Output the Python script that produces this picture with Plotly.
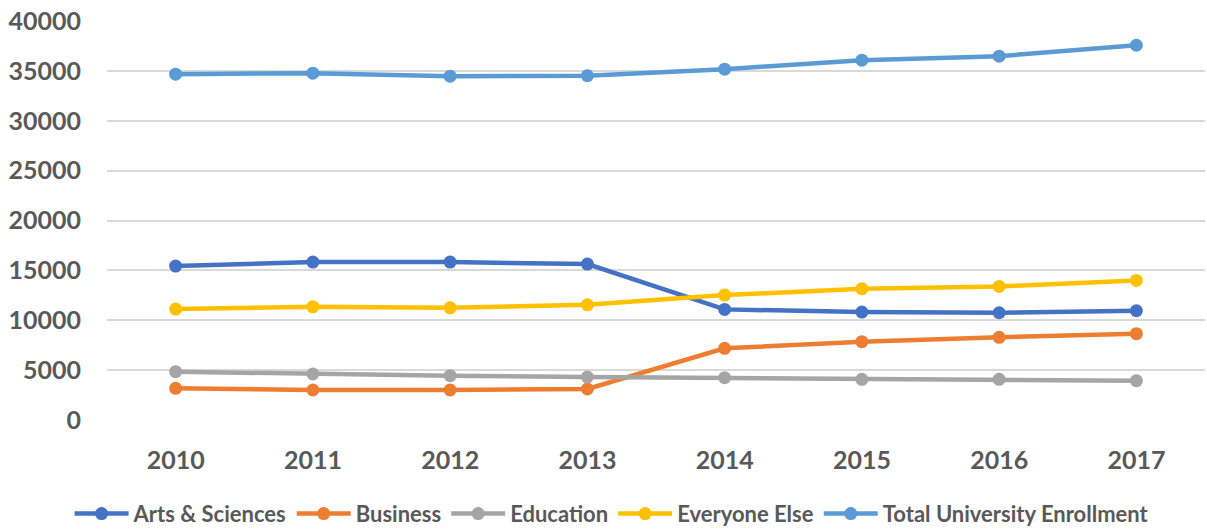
import plotly.graph_objects as go

years = ["2010", "2011", "2012", "2013", "2014", "2015", "2016", "2017"]
arts_sciences = [15430, 15830, 15830, 15630, 11090, 10820, 10750, 10950]
business = [3180, 3010, 3010, 3110, 7190, 7850, 8290, 8650]
education = [4840, 4610, 4440, 4310, 4240, 4080, 4080, 3940]
everyone_else = [11120, 11350, 11250, 11550, 12520, 13150, 13390, 13990]
total_enrollment = [34670, 34770, 34470, 34520, 35170, 36070, 36470, 37570]

series = [
    ("Arts & Sciences", arts_sciences, "#4472C4"),
    ("Business", business, "#ED7D31"),
    ("Education", education, "#A5A5A5"),
    ("Everyone Else", everyone_else, "#FFC000"),
    ("Total University Enrollment", total_enrollment, "#5B9BD5"),
]

fig = go.Figure()
for name, vals, color in series:
    fig.add_trace(go.Scatter(
        x=years, y=vals, name=name, mode="lines+markers",
        line=dict(color=color, width=4.5),
        marker=dict(color=color, size=13),
    ))

font_family = "Lato"
fig.update_layout(
    width=1207, height=529,
    margin=dict(l=107, r=2, t=21, b=109, autoexpand=False),
    paper_bgcolor="white", plot_bgcolor="white",
    font=dict(family=font_family, color="#595959"),
    showlegend=True,
    legend=dict(
        orientation="h", x=0.46, xanchor="center", y=-0.235, yanchor="middle",
        font=dict(size=22, family=font_family, color="#595959", weight="bold"),
        itemwidth=54, traceorder="normal",
    ),
    xaxis=dict(
        type="category", range=[-0.5, 7.5], showgrid=False, showline=False,
        ticks="", tickfont=dict(size=25, weight="bold", color="#595959"),
        ticklabelstandoff=23, zeroline=False, automargin=False,
        ticklabeloverflow="allow",
    ),
    yaxis=dict(
        range=[0, 40000], tickvals=[0, 5000, 10000, 15000, 20000, 25000, 30000, 35000, 40000],
        tickformat="d", showgrid=True, gridcolor="#D9D9D9", gridwidth=1.5,
        zeroline=False, showline=False, ticks="",
        tickfont=dict(size=25, weight="bold", color="#595959"),
        ticklabelstandoff=25, automargin=False,
        ticklabeloverflow="allow",
    ),
)

fig.write_html(
    "out.html",
    config={"displayModeBar": False},
    post_script="document.body.style.margin='0';document.body.style.overflow='hidden';",
)
